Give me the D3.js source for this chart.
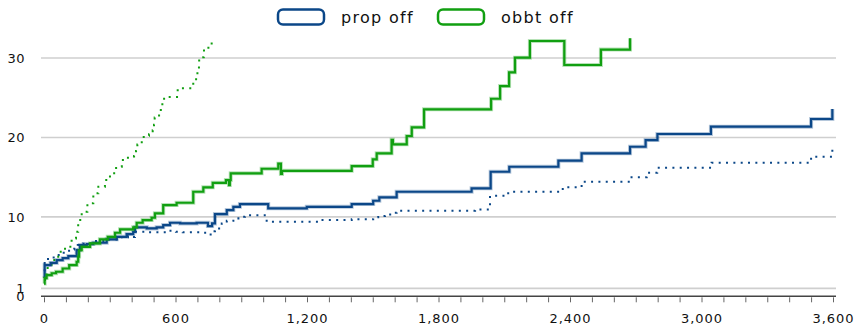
<!DOCTYPE html>
<html>
<head>
<meta charset="utf-8">
<script src="https://cdn.jsdelivr.net/npm/d3@7"></script>
<style>
  html, body { margin: 0; padding: 0; background: #fff; }
  svg text { font-family: "DejaVu Sans", sans-serif; fill: #111; }
</style>
</head>
<body>
<svg id="chart"></svg>
<script>
// time (x) and value (y) pairs, step-after
const propOff = [[0,2.3],[3,3.93],[30,4.2],[58,4.56],[85,4.8],[111,5.06],[149,5.82],[164,6.45],[195,6.57],[225,6.74],[286,7.17],[332,7.49],[377,7.83],[407,8.12],[415,8.68],[469,8.55],[514,8.68],[544,8.97],[575,9.26],[621,9.18],[697,9.26],[748,8.84],[767,9.18],[780,10.35],[834,10.86],[864,11.27],[894,11.61],[1023,11.07],[1199,11.27],[1404,11.61],[1502,12.03],[1530,12.46],[1609,13.16],[1951,13.59],[2038,15.68],[2123,16.31],[2347,17.07],[2453,18.0],[2674,18.83],[2745,19.67],[2799,20.43],[3043,21.35],[3500,22.32],[3597,23.58]];
const propOffB = [[0,2.3],[3,4.56],[12,4.69],[32,4.9],[55,5.19],[78,5.48],[100,5.73],[123,5.9],[138,6.23],[154,6.45],[177,6.66],[224,6.95],[278,7.14],[351,7.42],[383,7.58],[400,7.45],[415,8.12],[473,8.05],[572,8.25],[602,8.12],[633,8.05],[724,8.0],[750,7.77],[771,8.2],[780,8.55],[811,9.18],[834,9.51],[864,9.81],[887,10.01],[917,10.19],[1016,9.38],[1252,9.6],[1404,9.69],[1502,9.94],[1525,10.1],[1556,10.31],[1586,10.52],[1609,10.77],[1967,10.94],[2035,12.66],[2118,13.16],[2351,13.5],[2377,13.72],[2453,14.42],[2674,14.99],[2750,15.55],[2798,16.18],[3046,16.81],[3500,17.57],[3597,18.5]];
const obbtOff = [[0,1.6],[3,2.3],[12,2.67],[35,2.9],[55,3.09],[85,3.5],[115,3.93],[149,4.35],[156,5.0],[160,5.8],[172,6.23],[210,6.66],[255,7.17],[291,7.49],[324,8.0],[347,8.43],[407,8.68],[423,9.26],[450,9.6],[491,9.89],[506,10.44],[544,11.49],[605,11.78],[681,13.16],[727,13.72],[770,14.29],[830,14.63],[844,14.0],[848,14.63],[852,15.48],[993,16.06],[1069,16.7],[1081,15.4],[1086,15.8],[1404,16.4],[1500,17.24],[1518,18.0],[1586,19.7],[1592,19.13],[1655,20.18],[1678,21.27],[1734,23.54],[2040,24.87],[2081,26.47],[2122,28.2],[2149,30.04],[2217,32.14],[2374,29.12],[2541,31.06],[2674,32.48]];
const obbtOffB = [[0,2.04],[12,3.55],[35,4.56],[65,5.6],[96,6.23],[126,7.29],[146,8.12],[156,9.6],[172,10.64],[198,11.7],[225,12.96],[248,13.79],[278,14.63],[301,15.48],[329,16.31],[355,17.15],[383,17.6],[411,17.66],[420,18.3],[426,19.1],[446,19.6],[455,20.2],[479,20.4],[496,20.9],[502,21.6],[505,22.5],[525,22.9],[533,23.7],[540,24.4],[548,25.1],[607,25.3],[610,26.2],[681,27.0],[694,27.6],[700,28.4],[707,29.2],[708,30.1],[729,30.4],[730,31.3],[757,31.5],[765,32.2]];

const xTicks = [0, 600, 1200, 1800, 2400, 3000, 3600];
const yTicks = [0, 1, 10, 20, 30];
const yGrid = [1, 10, 20, 30];
const legendNames = ['prop off', 'obbt off'];

const BLUE = '#0b4788';
const GREEN = '#119f11';
const width = 855, height = 327;

const svg = d3.select('#chart').attr('width', width).attr('height', height);

const x = d3.scaleLinear([0, 3600], [44, 833]);
const y = d3.scaleLinear([0, 30], [296.3, 58]);

// grid
svg.append('g')
  .selectAll('line')
  .data(yGrid)
  .join('line')
  .attr('x1', 41).attr('x2', 836)
  .attr('y1', d => y(d)).attr('y2', d => y(d))
  .attr('stroke', '#cfcfcf')
  .attr('stroke-width', 1.6);

// x axis
const xAxis = d3.axisBottom(x)
  .tickValues(d3.range(0, 3601, 100))
  .tickSize(6)
  .tickFormat(d => (d % 600 === 0 ? d3.format(',')(d) : ''));
svg.append('g')
  .attr('transform', `translate(0,${y(0)})`)
  .call(xAxis)
  .call(g => g.select('.domain').attr('d', `M41,0H836`).attr('stroke', '#444').attr('stroke-width', 1.5))
  .call(g => g.selectAll('.tick line').attr('stroke', '#666').attr('y1', 1))
  .call(g => g.selectAll('.tick text')
    .attr('y', 17)
    .attr('font-size', 13)
    .attr('letter-spacing', 1)
    .style('font-family', '"DejaVu Sans", sans-serif')
    .attr('fill', '#111'));

// y labels
svg.append('g')
  .selectAll('text')
  .data(yTicks)
  .join('text')
  .attr('x', 25)
  .attr('y', d => y(d))
  .attr('dy', '0.36em')
  .attr('text-anchor', 'end')
  .attr('font-size', 13)
  .attr('letter-spacing', 0.5)
  .text(d => d);

const line = d3.line()
  .curve(d3.curveStepAfter)
  .x(d => x(d[0]))
  .y(d => y(d[1]));

const plot = svg.append('g');

// dotted runs
[[propOffB, BLUE], [obbtOffB, GREEN]].forEach(([data, color]) => {
  plot.append('path')
    .attr('d', line(data))
    .attr('fill', 'none')
    .attr('stroke', color)
    .attr('stroke-width', 2)
    .attr('stroke-dasharray', '2,5.33');
});

// solid runs with a light halo
[[propOff, BLUE], [obbtOff, GREEN]].forEach(([data, color]) => {
  plot.append('path')
    .attr('d', line(data))
    .attr('fill', 'none')
    .attr('stroke', color)
    .attr('stroke-opacity', 0.3)
    .attr('stroke-width', 4);
  plot.append('path')
    .attr('d', line(data))
    .attr('fill', 'none')
    .attr('stroke', color)
    .attr('stroke-width', 2.2);
});

// legend
const legend = svg.append('g')
  .selectAll('g')
  .data(legendNames)
  .join('g')
  .attr('transform', (d, i) => `translate(${278 + i * 160},0)`);
legend.append('rect')
  .attr('x', 0).attr('y', 9.5)
  .attr('width', 46).attr('height', 15)
  .attr('rx', 5)
  .attr('fill', '#fff')
  .attr('stroke', (d, i) => (i === 0 ? BLUE : GREEN))
  .attr('stroke-width', 2.5);
legend.append('text')
  .attr('x', 63)
  .attr('y', 23)
  .attr('font-size', 16)
  .attr('letter-spacing', 1.3)
  .text(d => d);
</script>
</body>
</html>
